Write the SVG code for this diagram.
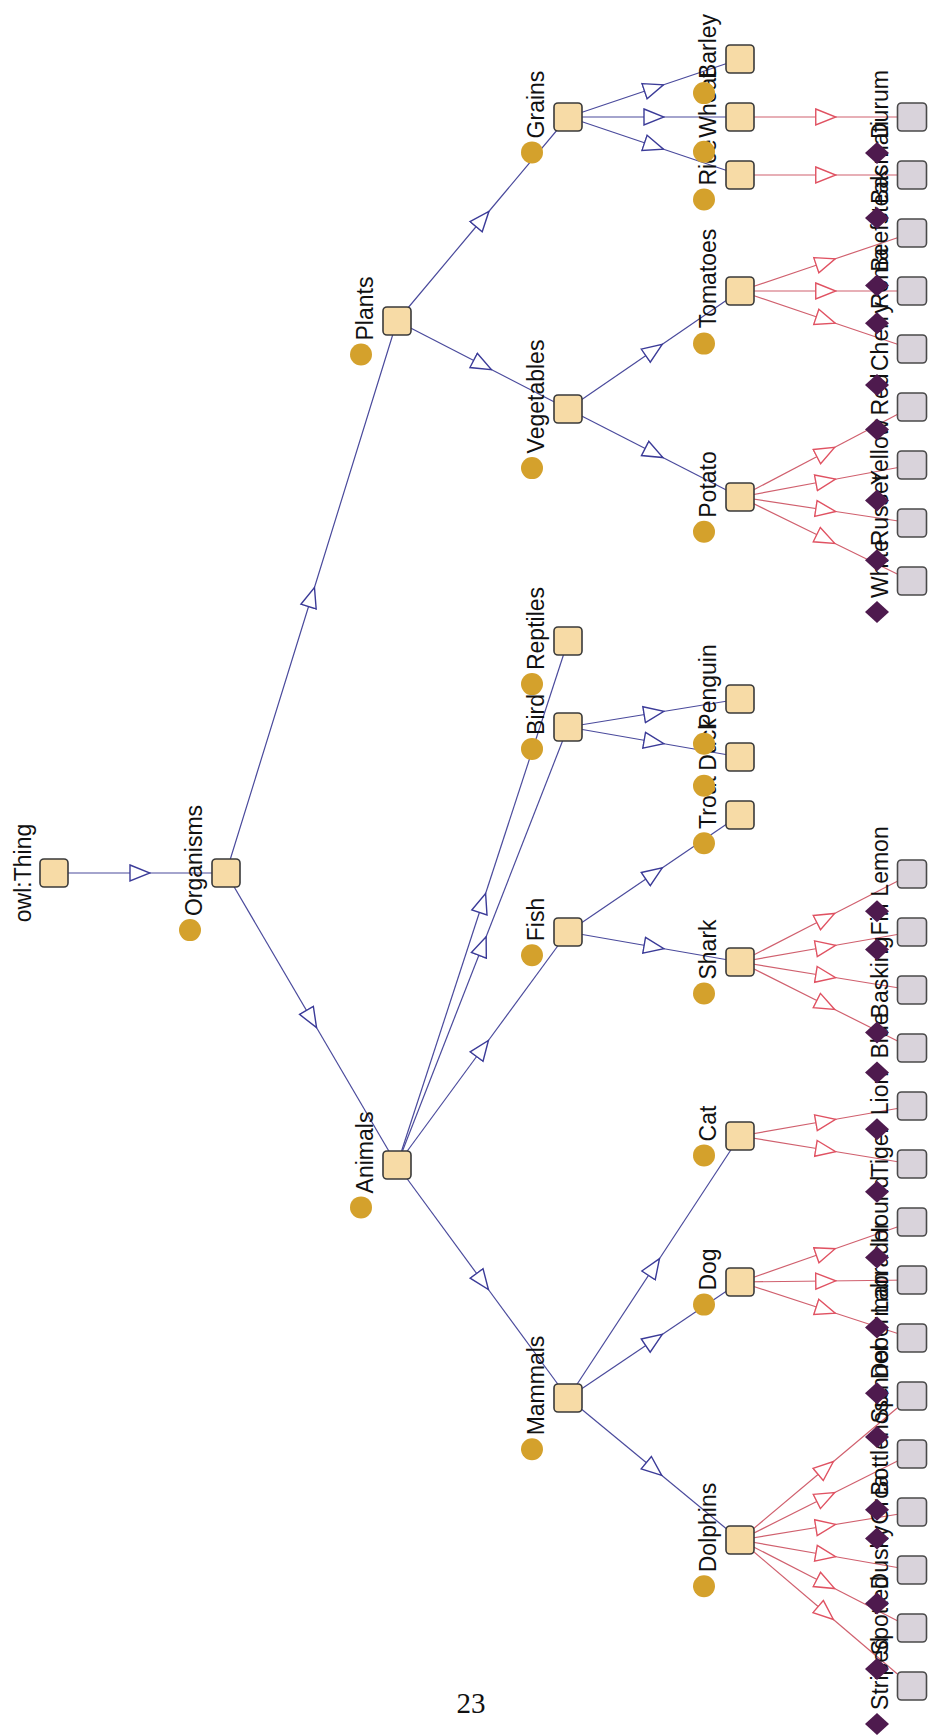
<svg xmlns="http://www.w3.org/2000/svg" width="928" height="1735" viewBox="0 0 928 1735">
<style>
.cls{fill:#f7dba6;stroke:#3a3a3a;stroke-width:1.6}
.ind{fill:#d9d3db;stroke:#4a4a4a;stroke-width:1.6}
.dot{fill:#d4a12c}
.dia{fill:#4e1a4e}
.lbl{font-family:"Liberation Sans",Arial,sans-serif;font-size:23px;fill:#111;text-anchor:middle}
.be{fill:none;stroke:#4a4a9c;stroke-width:1.2;marker-mid:url(#tb)}
.re{fill:none;stroke:#d0606e;stroke-width:1.2;marker-mid:url(#tr)}
.pg{font-family:"Liberation Serif","Times New Roman",serif;font-size:29px;fill:#111;text-anchor:middle}
</style>
<defs>
<marker id="tb" markerUnits="userSpaceOnUse" viewBox="0 0 22 20" markerWidth="22" markerHeight="20" refX="11" refY="10" orient="auto"><path d="M1,2 L21,10 L1,18 Z" fill="#fff" stroke="#3b3b98" stroke-width="1.4"/></marker>
<marker id="tr" markerUnits="userSpaceOnUse" viewBox="0 0 22 20" markerWidth="22" markerHeight="20" refX="11" refY="10" orient="auto"><path d="M1,2 L21,10 L1,18 Z" fill="#fff" stroke="#e05262" stroke-width="1.4"/></marker>
</defs>
<rect width="928" height="1735" fill="#fff"/>
<g id="connectors">
<path class="be" d="M54,873 L140,873 L226,873"/>
<path class="be" d="M226,873 L311.5,597 L397,321"/>
<path class="be" d="M226,873 L311.5,1019 L397,1165"/>
<path class="be" d="M397,321 L482.5,219 L568,117"/>
<path class="be" d="M397,321 L482.5,365 L568,409"/>
<path class="be" d="M397,1165 L482.5,903 L568,641"/>
<path class="be" d="M397,1165 L482.5,946 L568,727"/>
<path class="be" d="M397,1165 L482.5,1048.5 L568,932"/>
<path class="be" d="M397,1165 L482.5,1281.5 L568,1398"/>
<path class="be" d="M568,117 L654,88 L740,59"/>
<path class="be" d="M568,117 L654,117 L740,117"/>
<path class="be" d="M568,117 L654,146 L740,175"/>
<path class="be" d="M568,409 L654,350 L740,291"/>
<path class="be" d="M568,409 L654,453 L740,497"/>
<path class="be" d="M568,727 L654,713 L740,699"/>
<path class="be" d="M568,727 L654,742 L740,757"/>
<path class="be" d="M568,932 L654,873.5 L740,815"/>
<path class="be" d="M568,932 L654,947 L740,962"/>
<path class="be" d="M568,1398 L654,1267 L740,1136"/>
<path class="be" d="M568,1398 L654,1340 L740,1282"/>
<path class="be" d="M568,1398 L654,1469 L740,1540"/>
<path class="re" d="M740,117 L825.75,117 L911.5,117"/>
<path class="re" d="M740,175 L825.75,175 L911.5,175"/>
<path class="re" d="M740,291 L825.75,262 L911.5,233"/>
<path class="re" d="M740,291 L825.75,291 L911.5,291"/>
<path class="re" d="M740,291 L825.75,320 L911.5,349"/>
<path class="re" d="M740,497 L825.75,452 L911.5,407"/>
<path class="re" d="M740,497 L825.75,481 L911.5,465"/>
<path class="re" d="M740,497 L825.75,510 L911.5,523"/>
<path class="re" d="M740,497 L825.75,539 L911.5,581"/>
<path class="re" d="M740,962 L825.75,918 L911.5,874"/>
<path class="re" d="M740,962 L825.75,947 L911.5,932"/>
<path class="re" d="M740,962 L825.75,976 L911.5,990"/>
<path class="re" d="M740,962 L825.75,1005 L911.5,1048"/>
<path class="re" d="M740,1136 L825.75,1121 L911.5,1106"/>
<path class="re" d="M740,1136 L825.75,1150 L911.5,1164"/>
<path class="re" d="M740,1282 L825.75,1252 L911.5,1222"/>
<path class="re" d="M740,1282 L825.75,1281 L911.5,1280"/>
<path class="re" d="M740,1282 L825.75,1310 L911.5,1338"/>
<path class="re" d="M740,1540 L825.75,1468 L911.5,1396"/>
<path class="re" d="M740,1540 L825.75,1497 L911.5,1454"/>
<path class="re" d="M740,1540 L825.75,1526 L911.5,1512"/>
<path class="re" d="M740,1540 L825.75,1555 L911.5,1570"/>
<path class="re" d="M740,1540 L825.75,1584 L911.5,1628"/>
<path class="re" d="M740,1540 L825.75,1613 L911.5,1686"/>
</g>
<g id="n-thing"><rect class="cls" x="40" y="859" width="28" height="28" rx="4"/><text class="lbl" transform="translate(31,873) rotate(-90)">owl:Thing</text></g>
<g id="n-organisms"><rect class="cls" x="212" y="859" width="28" height="28" rx="4"/><circle class="dot" cx="190" cy="930.1" r="11"/><text class="lbl" transform="translate(202,860.5) rotate(-90)">Organisms</text></g>
<g id="n-animals"><rect class="cls" x="383" y="1151" width="28" height="28" rx="4"/><circle class="dot" cx="361" cy="1207.4" r="11"/><text class="lbl" transform="translate(373,1152.5) rotate(-90)">Animals</text></g>
<g id="n-plants"><rect class="cls" x="383" y="307" width="28" height="28" rx="4"/><circle class="dot" cx="361" cy="354.5" r="11"/><text class="lbl" transform="translate(373,308.5) rotate(-90)">Plants</text></g>
<g id="n-mammals"><rect class="cls" x="554" y="1384" width="28" height="28" rx="4"/><circle class="dot" cx="532" cy="1449.3" r="11"/><text class="lbl" transform="translate(544,1385.5) rotate(-90)">Mammals</text></g>
<g id="n-fish"><rect class="cls" x="554" y="918" width="28" height="28" rx="4"/><circle class="dot" cx="532" cy="955.2" r="11"/><text class="lbl" transform="translate(544,919.5) rotate(-90)">Fish</text></g>
<g id="n-bird"><rect class="cls" x="554" y="713" width="28" height="28" rx="4"/><circle class="dot" cx="532" cy="748.9" r="11"/><text class="lbl" transform="translate(544,714.5) rotate(-90)">Bird</text></g>
<g id="n-reptiles"><rect class="cls" x="554" y="627" width="28" height="28" rx="4"/><circle class="dot" cx="532" cy="684.1" r="11"/><text class="lbl" transform="translate(544,628.5) rotate(-90)">Reptiles</text></g>
<g id="n-vegetables"><rect class="cls" x="554" y="395" width="28" height="28" rx="4"/><circle class="dot" cx="532" cy="468.1" r="11"/><text class="lbl" transform="translate(544,396.5) rotate(-90)">Vegetables</text></g>
<g id="n-grains"><rect class="cls" x="554" y="103" width="28" height="28" rx="4"/><circle class="dot" cx="532" cy="152.4" r="11"/><text class="lbl" transform="translate(544,104.5) rotate(-90)">Grains</text></g>
<g id="n-dolphins"><rect class="cls" x="726" y="1526" width="28" height="28" rx="4"/><circle class="dot" cx="704" cy="1586.2" r="11"/><text class="lbl" transform="translate(716,1527.5) rotate(-90)">Dolphins</text></g>
<g id="n-dog"><rect class="cls" x="726" y="1268" width="28" height="28" rx="4"/><circle class="dot" cx="704" cy="1304.6" r="11"/><text class="lbl" transform="translate(716,1269.5) rotate(-90)">Dog</text></g>
<g id="n-cat"><rect class="cls" x="726" y="1122" width="28" height="28" rx="4"/><circle class="dot" cx="704" cy="1155.4" r="11"/><text class="lbl" transform="translate(716,1123.5) rotate(-90)">Cat</text></g>
<g id="n-shark"><rect class="cls" x="726" y="948" width="28" height="28" rx="4"/><circle class="dot" cx="704" cy="993.5" r="11"/><text class="lbl" transform="translate(716,949.5) rotate(-90)">Shark</text></g>
<g id="n-trout"><rect class="cls" x="726" y="801" width="28" height="28" rx="4"/><circle class="dot" cx="704" cy="843.3" r="11"/><text class="lbl" transform="translate(716,802.5) rotate(-90)">Trout</text></g>
<g id="n-duck"><rect class="cls" x="726" y="743" width="28" height="28" rx="4"/><circle class="dot" cx="704" cy="785.7" r="11"/><text class="lbl" transform="translate(716,744.5) rotate(-90)">Duck</text></g>
<g id="n-penguin"><rect class="cls" x="726" y="685" width="28" height="28" rx="4"/><circle class="dot" cx="704" cy="743.7" r="11"/><text class="lbl" transform="translate(716,686.5) rotate(-90)">Penguin</text></g>
<g id="n-potato"><rect class="cls" x="726" y="483" width="28" height="28" rx="4"/><circle class="dot" cx="704" cy="531.7" r="11"/><text class="lbl" transform="translate(716,484.5) rotate(-90)">Potato</text></g>
<g id="n-tomatoes"><rect class="cls" x="726" y="277" width="28" height="28" rx="4"/><circle class="dot" cx="704" cy="343.6" r="11"/><text class="lbl" transform="translate(716,278.5) rotate(-90)">Tomatoes</text></g>
<g id="n-rice"><rect class="cls" x="726" y="161" width="28" height="28" rx="4"/><circle class="dot" cx="704" cy="199.5" r="11"/><text class="lbl" transform="translate(716,162.5) rotate(-90)">Rice</text></g>
<g id="n-wheat"><rect class="cls" x="726" y="103" width="28" height="28" rx="4"/><circle class="dot" cx="704" cy="151.7" r="11"/><text class="lbl" transform="translate(716,104.5) rotate(-90)">Wheat</text></g>
<g id="n-barley"><rect class="cls" x="726" y="45" width="28" height="28" rx="4"/><circle class="dot" cx="704" cy="93.1" r="11"/><text class="lbl" transform="translate(716,46.5) rotate(-90)">Barley</text></g>
<g id="i-striped"><rect class="ind" x="897.5" y="1672" width="29" height="28" rx="4"/><polygon class="dia" points="877,1713 889,1724 877,1735 865,1724"/><text class="lbl" transform="translate(888,1673.5) rotate(-90)">Striped</text></g>
<g id="i-spotted"><rect class="ind" x="897.5" y="1614" width="29" height="28" rx="4"/><polygon class="dia" points="877,1658.1 889,1669.1 877,1680.1 865,1669.1"/><text class="lbl" transform="translate(888,1615.5) rotate(-90)">Spotted</text></g>
<g id="i-dusky"><rect class="ind" x="897.5" y="1556" width="29" height="28" rx="4"/><polygon class="dia" points="877,1592.5 889,1603.5 877,1614.5 865,1603.5"/><text class="lbl" transform="translate(888,1557.5) rotate(-90)">Dusky</text></g>
<g id="i-orca"><rect class="ind" x="897.5" y="1498" width="29" height="28" rx="4"/><polygon class="dia" points="877,1527.4 889,1538.4 877,1549.4 865,1538.4"/><text class="lbl" transform="translate(888,1499.5) rotate(-90)">Orca</text></g>
<g id="i-bottlenose"><rect class="ind" x="897.5" y="1440" width="29" height="28" rx="4"/><polygon class="dia" points="877,1498.8 889,1509.8 877,1520.8 865,1509.8"/><text class="lbl" transform="translate(888,1441.5) rotate(-90)">Bottlenose</text></g>
<g id="i-spinner"><rect class="ind" x="897.5" y="1382" width="29" height="28" rx="4"/><polygon class="dia" points="877,1426.1 889,1437.1 877,1448.1 865,1437.1"/><text class="lbl" transform="translate(888,1383.5) rotate(-90)">Spinner</text></g>
<g id="i-doberman"><rect class="ind" x="897.5" y="1324" width="29" height="28" rx="4"/><polygon class="dia" points="877,1382.2 889,1393.2 877,1404.2 865,1393.2"/><text class="lbl" transform="translate(888,1325.5) rotate(-90)">Doberman</text></g>
<g id="i-labrador"><rect class="ind" x="897.5" y="1266" width="29" height="28" rx="4"/><polygon class="dia" points="877,1316.5 889,1327.5 877,1338.5 865,1327.5"/><text class="lbl" transform="translate(888,1267.5) rotate(-90)">Labrador</text></g>
<g id="i-hound"><rect class="ind" x="897.5" y="1208" width="29" height="28" rx="4"/><polygon class="dia" points="877,1246.4 889,1257.4 877,1268.4 865,1257.4"/><text class="lbl" transform="translate(888,1209.5) rotate(-90)">Hound</text></g>
<g id="i-tiger"><rect class="ind" x="897.5" y="1150" width="29" height="28" rx="4"/><polygon class="dia" points="877,1180.7 889,1191.7 877,1202.7 865,1191.7"/><text class="lbl" transform="translate(888,1151.5) rotate(-90)">Tiger</text></g>
<g id="i-lion"><rect class="ind" x="897.5" y="1092" width="29" height="28" rx="4"/><polygon class="dia" points="877,1118.2 889,1129.2 877,1140.2 865,1129.2"/><text class="lbl" transform="translate(888,1093.5) rotate(-90)">Lion</text></g>
<g id="i-blue"><rect class="ind" x="897.5" y="1034" width="29" height="28" rx="4"/><polygon class="dia" points="877,1061.5 889,1072.5 877,1083.5 865,1072.5"/><text class="lbl" transform="translate(888,1035.5) rotate(-90)">Blue</text></g>
<g id="i-basking"><rect class="ind" x="897.5" y="976" width="29" height="28" rx="4"/><polygon class="dia" points="877,1021.4 889,1032.4 877,1043.4 865,1032.4"/><text class="lbl" transform="translate(888,977.5) rotate(-90)">Basking</text></g>
<g id="i-fin"><rect class="ind" x="897.5" y="918" width="29" height="28" rx="4"/><polygon class="dia" points="877,938.5 889,949.5 877,960.5 865,949.5"/><text class="lbl" transform="translate(888,919.5) rotate(-90)">Fin</text></g>
<g id="i-lemon"><rect class="ind" x="897.5" y="860" width="29" height="28" rx="4"/><polygon class="dia" points="877,900.2 889,911.2 877,922.2 865,911.2"/><text class="lbl" transform="translate(888,861.5) rotate(-90)">Lemon</text></g>
<g id="i-white"><rect class="ind" x="897.5" y="567" width="29" height="28" rx="4"/><polygon class="dia" points="877,600.9 889,611.9 877,622.9 865,611.9"/><text class="lbl" transform="translate(888,568.5) rotate(-90)">White</text></g>
<g id="i-russet"><rect class="ind" x="897.5" y="509" width="29" height="28" rx="4"/><polygon class="dia" points="877,549.3 889,560.3 877,571.3 865,560.3"/><text class="lbl" transform="translate(888,510.5) rotate(-90)">Russet</text></g>
<g id="i-yellow"><rect class="ind" x="897.5" y="451" width="29" height="28" rx="4"/><polygon class="dia" points="877,489.4 889,500.4 877,511.4 865,500.4"/><text class="lbl" transform="translate(888,452.5) rotate(-90)">Yellow</text></g>
<g id="i-red"><rect class="ind" x="897.5" y="393" width="29" height="28" rx="4"/><polygon class="dia" points="877,418.6 889,429.6 877,440.6 865,429.6"/><text class="lbl" transform="translate(888,394.5) rotate(-90)">Red</text></g>
<g id="i-cherry"><rect class="ind" x="897.5" y="335" width="29" height="28" rx="4"/><polygon class="dia" points="877,374 889,385 877,396 865,385"/><text class="lbl" transform="translate(888,336.5) rotate(-90)">Cherry</text></g>
<g id="i-roma"><rect class="ind" x="897.5" y="277" width="29" height="28" rx="4"/><polygon class="dia" points="877,312.2 889,323.2 877,334.2 865,323.2"/><text class="lbl" transform="translate(888,278.5) rotate(-90)">Roma</text></g>
<g id="i-beefsteak"><rect class="ind" x="897.5" y="219" width="29" height="28" rx="4"/><polygon class="dia" points="877,274.6 889,285.6 877,296.6 865,285.6"/><text class="lbl" transform="translate(888,220.5) rotate(-90)">Beefsteak</text></g>
<g id="i-basmati"><rect class="ind" x="897.5" y="161" width="29" height="28" rx="4"/><polygon class="dia" points="877,207 889,218 877,229 865,218"/><text class="lbl" transform="translate(888,162.5) rotate(-90)">Basmati</text></g>
<g id="i-durum"><rect class="ind" x="897.5" y="103" width="29" height="28" rx="4"/><polygon class="dia" points="877,142 889,153 877,164 865,153"/><text class="lbl" transform="translate(888,104.5) rotate(-90)">Durum</text></g>
<text class="pg" x="471" y="1713">23</text>
</svg>
